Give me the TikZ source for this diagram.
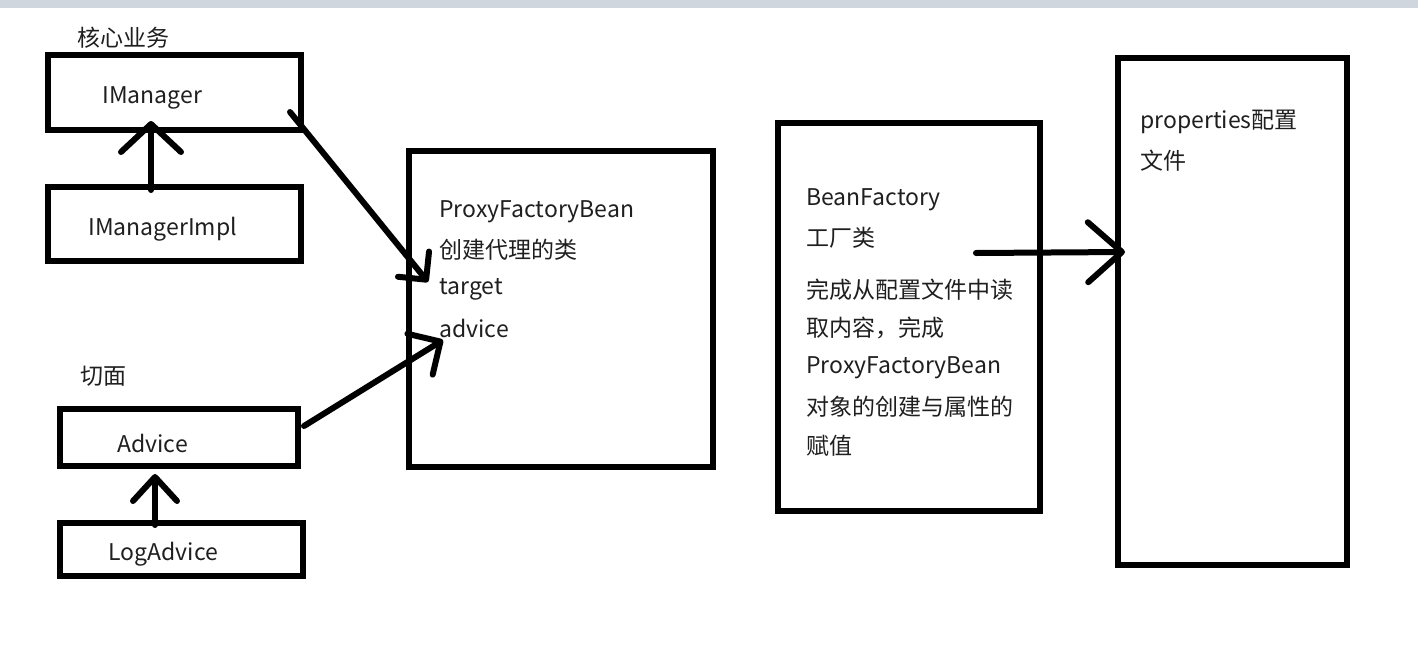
\documentclass[tikz,border=0pt]{standalone}
\usepackage{fontspec}
\setmainfont{Noto Sans CJK SC}
\usetikzlibrary{arrows.meta}
\definecolor{barcol}{RGB}{208,214,222}
\begin{document}
\begin{tikzpicture}[x=0.5pt,y=-0.5pt,
  box/.style={draw=black,line width=3pt,inner sep=0pt,fill=none},
  txt/.style={anchor=west,inner sep=0pt,yshift=-1.2pt,font=\fontsize{11.5}{14}\selectfont,text=black!88},
  conn/.style={line width=3pt,line cap=round,line join=round},
]
\useasboundingbox (0,0) rectangle (1418,648);
\fill[white] (0,0) rectangle (1418,648);
\fill[barcol] (0,0) rectangle (1418,8);

% boxes
\node[box,minimum width=126.5pt,minimum height=37.5pt] (imgr) at (174.5,92.5) {};
\node[box,minimum width=126.5pt,minimum height=37pt] (impl) at (174.5,224) {};
\node[box,minimum width=119pt,minimum height=28.5pt] (adv) at (179,437.5) {};
\node[box,minimum width=121.5pt,minimum height=26.5pt] (logadv) at (181.5,549.5) {};
\node[box,minimum width=152pt,minimum height=158pt] (pfb) at (561,309) {};
\node[box,minimum width=131pt,minimum height=194pt] (bf) at (909,317) {};
\node[box,minimum width=114.5pt,minimum height=253.5pt] (props) at (1232.5,311.5) {};

% texts
\node[txt] (t1) at (77,35) {核心业务};
\node[txt] (t2) at (102,96) {IManager};
\node[txt] (t3) at (88,227) {IManagerImpl};
\node[txt] (t4) at (80,374) {切面};
\node[txt] (t5) at (117,441) {Advice};
\node[txt] (t6) at (108,552) {LogAdvice};
\node[txt] (p1) at (439,209) {ProxyFactoryBean};
\node[txt] (p2) at (439,247) {创建代理的类};
\node[txt] (p3) at (439,287) {target};
\node[txt] (p4) at (439,326) {advice};
\node[txt] (b1) at (806,197) {BeanFactory};
\node[txt] (b2) at (806,235) {工厂类};
\node[txt] (b3) at (806,287) {完成从配置文件中读};
\node[txt] (b4) at (806,326) {取内容，完成};
\node[txt] (b5) at (806,365) {ProxyFactoryBean};
\node[txt] (b6) at (806,404) {对象的创建与属性的};
\node[txt] (b7) at (806,443) {赋值};
\node[txt] (r1) at (1140,120) {properties配置};
\node[txt] (r2) at (1140,158) {文件};

% connector end points
\coordinate (a1s) at (151,190);
\coordinate (a1e) at (151,121);
\coordinate (a2s) at (155,525);
\coordinate (a2e) at (155,474);
\coordinate (a3s) at (290,112);
\coordinate (a3e) at (428,282);
\coordinate (a4s) at (304,426);
\coordinate (a4e) at (443,340);
\coordinate (a5s) at (976,253);
\coordinate (a5e) at (1125,252);

\draw[conn,-{Straight Barb[round,length=14pt,width=30pt]}] (a1s) -- (a1e);
\draw[conn,-{Straight Barb[round,length=12pt,width=22pt]}] (a2s) -- (a2e);
\draw[conn,-{Straight Barb[round,length=10pt,width=20pt]}] (a3s) -- (a3e);
\draw[conn,-{Straight Barb[round,length=12pt,width=24pt]}] (a4s) -- (a4e);
\draw[conn,-{Straight Barb[round,length=17pt,width=30pt]}] (a5s) -- (a5e);
\end{tikzpicture}
\end{document}
